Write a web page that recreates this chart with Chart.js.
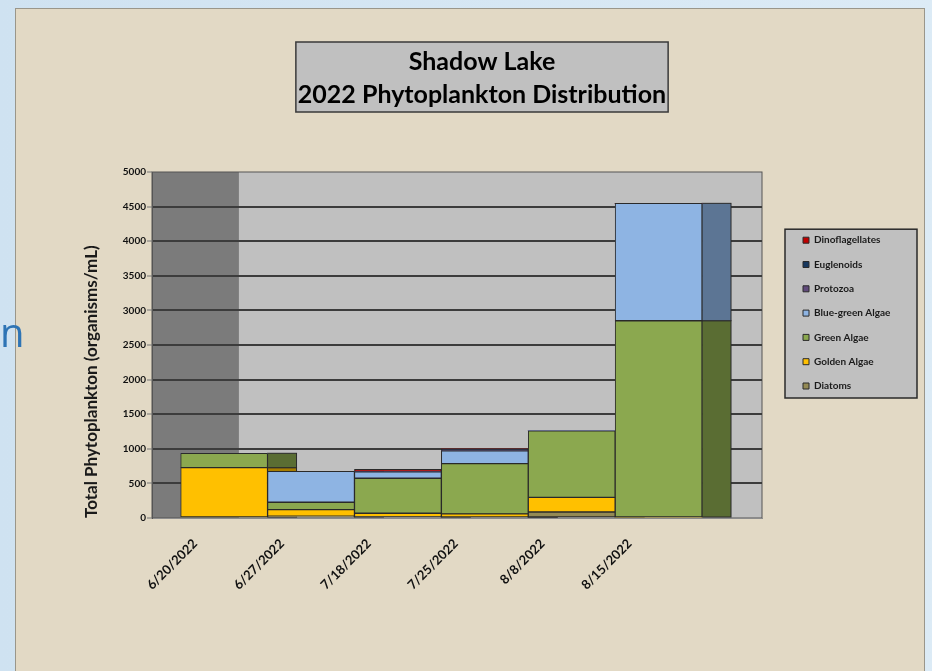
<!DOCTYPE html>
<html>
<head>
<meta charset="utf-8">
<title>Shadow Lake 2022 Phytoplankton Distribution</title>
<script src="https://cdn.jsdelivr.net/npm/chart.js@4.4.0/dist/chart.umd.min.js"></script>
<style>
  html, body { margin: 0; padding: 0; }
  body {
    width: 932px; height: 671px; overflow: hidden; position: relative;
    background: linear-gradient(90deg, #cfe2f1, #dcebf6);
  }
  .slide-text {
    position: absolute; left: 0px; top: 304px; z-index: 2;
    font: 40px "Open Sans", sans-serif; color: #2e74b5;
  }
  .panel {
    position: absolute; left: 15px; top: 8px; width: 908px; height: 663px;
    background: #e2d9c5; border: 1px solid #9a968a; border-bottom: none;
  }
  canvas { display: block; }
</style>
</head>
<body>
<div class="slide-text">n</div>
<div class="panel"><canvas id="phytoChart" width="908" height="663"></canvas></div>
<script>
// sample dates (x categories)
const dates = ['6/20/2022', '6/27/2022', '7/18/2022', '7/25/2022', '8/8/2022', '8/15/2022'];

// organisms/mL per group, bottom of the stack first
const diatoms    = [0, 25, 20, 15, 87, 0];
const golden     = [727, 95, 48, 45, 212, 0];
const greenAlgae = [208, 107, 506, 725, 962, 2851];
const blueGreen  = [0, 448, 95, 187, 0, 1696];
const protozoa   = [0, 0, 0, 0, 0, 0];
const euglenoids = [0, 0, 5, 25, 0, 0];
const dinoflag   = [0, 0, 30, 0, 0, 0];

const seriesNames  = ['Diatoms', 'Golden Algae', 'Green Algae', 'Blue-green Algae', 'Protozoa', 'Euglenoids', 'Dinoflagellates'];
const seriesValues = [diatoms, golden, greenAlgae, blueGreen, protozoa, euglenoids, dinoflag];
const seriesColors = ['#948a54', '#ffc000', '#8ba84f', '#8eb4e3', '#604a7b', '#17375e', '#c00000'];

const FONT = 'Lato, "Open Sans", sans-serif';
const depth = 3;          // side face = bar width / depth
const labelShift = -1 / 3; // date labels sit left of the bars (old excel 3d look)

function shade(hex, f) {
    const n = parseInt(hex.slice(1), 16);
    const r = Math.round(((n >> 16) & 255) * f);
    const g = Math.round(((n >> 8) & 255) * f);
    const b = Math.round((n & 255) * f);
    return `rgb(${r}, ${g}, ${b})`;
}

// move title + legend where the original has them
const placement = {
    id: 'placement',
    afterLayout(chart) {
        const a = chart.chartArea;
        const t = chart.titleBlock;
        const shift = (a.left + a.right) / 2 + 25 - (t.left + t.right) / 2;
        t.left += shift;
        t.right += shift;
        const lg = chart.legend;
        lg.left = a.right + 26.7;
        lg.right = lg.left + lg.width;
        lg.top = a.top + 48.9;
        lg.bottom = lg.top + lg.height;
    }
};

// grey boxes behind title, plot and legend
const backdrop = {
    id: 'backdrop',
    beforeDraw(chart) {
        const { ctx, chartArea: a, scales: { x } } = chart;
        ctx.save();

        const tOpt = chart.options.plugins.title;
        const t = chart.titleBlock;
        ctx.font = `bold ${tOpt.font.size}px ${FONT}`;
        const tw = Math.max(...tOpt.text.map(s => ctx.measureText(s).width));
        const lh = tOpt.font.size * tOpt.font.lineHeight;
        const cx = (t.left + t.right) / 2;
        const mid = t.top + tOpt.padding.top + lh / 2;
        ctx.fillStyle = '#c0c0c0';
        ctx.fillRect(cx - tw / 2 - 2, mid - 20, tw + 4, lh + 37);
        ctx.strokeStyle = '#3a3a3a';
        ctx.lineWidth = 1.5;
        ctx.strokeRect(cx - tw / 2 - 2, mid - 20, tw + 4, lh + 37);

        ctx.fillStyle = '#c0c0c0';
        ctx.fillRect(a.left, a.top, a.width, a.height);
        const wallRight = x.getPixelForValue(x.min + 1);
        ctx.fillStyle = '#7b7b7b';
        ctx.fillRect(a.left, a.top, wallRight - a.left, a.height);
        ctx.lineWidth = 1;
        ctx.strokeStyle = '#555';
        ctx.strokeRect(a.left, a.top, a.width, a.height);

        const hb = chart.legend.legendHitBoxes;
        if (hb && hb.length) {
            const left = hb[0].left - 18;
            const top = Math.min(...hb.map(h => h.top)) - 6;
            const bottom = Math.max(...hb.map(h => h.top + h.height)) + 7;
            ctx.fillStyle = '#c0c0c0';
            ctx.fillRect(left, top, 132, bottom - top);
            ctx.strokeStyle = '#2a2a2a';
            ctx.lineWidth = 1.5;
            ctx.strokeRect(left, top, 132, bottom - top);
        }
        ctx.restore();
    }
};

// darker right-hand faces of the columns, drawn behind the bars
const sideFaces = {
    id: 'sideFaces',
    beforeDatasetsDraw(chart) {
        const ctx = chart.ctx;
        ctx.save();
        chart.data.datasets.forEach((ds, di) => {
            chart.getDatasetMeta(di).data.forEach(bar => {
                const p = bar.getProps(['x', 'y', 'base', 'width'], true);
                const h = p.base - p.y;
                if (h <= 0) return;
                const left = p.x + p.width / 2;
                const w = p.width / depth;
                ctx.fillStyle = shade(ds.backgroundColor, 0.65);
                ctx.fillRect(left, p.y, w, h);
                ctx.strokeStyle = '#2a2a2a';
                ctx.lineWidth = 1;
                ctx.strokeRect(left, p.y, w, h);
            });
        });
        ctx.restore();
    }
};

const datasets = seriesNames.map((name, s) => ({
    label: name,
    data: seriesValues[s].map((v, i) => ({ x: i, y: v })),
    backgroundColor: seriesColors[s],
    borderColor: '#2a2a2a',
    // no outline on empty segments
    borderWidth: c => (c.raw && c.raw.y > 0) ? 1 : 0,
    borderSkipped: false,
    categoryPercentage: 1,
    barPercentage: 1
}));

new Chart(document.getElementById('phytoChart'), {
    type: 'bar',
    data: { datasets },
    plugins: [placement, backdrop, sideFaces],
    options: {
        responsive: false,
        animation: false,
        layout: { padding: { left: 0, right: 162, top: 0, bottom: 0 } },
        plugins: {
            title: {
                display: true,
                text: ['Shadow Lake', '2022 Phytoplankton Distribution'],
                color: '#000',
                font: { family: FONT, size: 25, weight: 'bold', lineHeight: 1.32 },
                padding: { top: 36.5, bottom: 60.5 }
            },
            legend: {
                position: 'chartArea',
                align: 'start',
                reverse: true,
                labels: {
                    boxWidth: 6,
                    boxHeight: 6,
                    padding: 14.3,
                    color: '#1a1a1a',
                    font: { family: FONT, size: 10, weight: 'bold' },
                    generateLabels: chart => Chart.defaults.plugins.legend.labels.generateLabels(chart)
                        .map(item => Object.assign(item, { lineWidth: 1, strokeStyle: '#2a2a2a' }))
                }
            },
            tooltip: { enabled: false }
        },
        scales: {
            x: {
                type: 'linear',
                offset: false,
                min: -0.83,
                max: 6.19,
                stacked: true,
                grid: { display: false, drawTicks: false, offset: false },
                border: { display: true, color: '#8c8c8c' },
                afterBuildTicks: axis => {
                    axis.ticks = dates.map((d, i) => ({ value: i + labelShift }));
                },
                afterFit: axis => { axis.height = 154; },
                ticks: {
                    autoSkip: false,
                    minRotation: 45,
                    maxRotation: 45,
                    padding: 18,
                    color: '#111',
                    font: { family: FONT, size: 13, weight: 'bold' },
                    callback: (value, index) => dates[index]
                }
            },
            y: {
                stacked: true,
                min: 0,
                max: 5000,
                ticks: {
                    stepSize: 500,
                    padding: 1,
                    color: '#111',
                    font: { family: FONT, size: 10, weight: 'bold' },
                    callback: v => String(v)
                },
                grid: {
                    color: c => (c.tick.value === 0 || c.tick.value === 5000) ? 'rgba(0,0,0,0)' : '#3c3c3c',
                    lineWidth: 2,
                    tickLength: 5,
                    tickColor: '#777',
                    tickWidth: 1
                },
                border: { display: true, color: '#555' },
                title: {
                    display: true,
                    text: 'Total Phytoplankton (organisms/mL)',
                    align: 'start',
                    color: '#1a1a1a',
                    font: { family: FONT, size: 17, weight: 'bold', lineHeight: 1.2 },
                    padding: { top: 65.8, bottom: 0 }
                },
                afterFit: axis => { axis.width = 136; }
            }
        }
    }
});
</script>
</body>
</html>
